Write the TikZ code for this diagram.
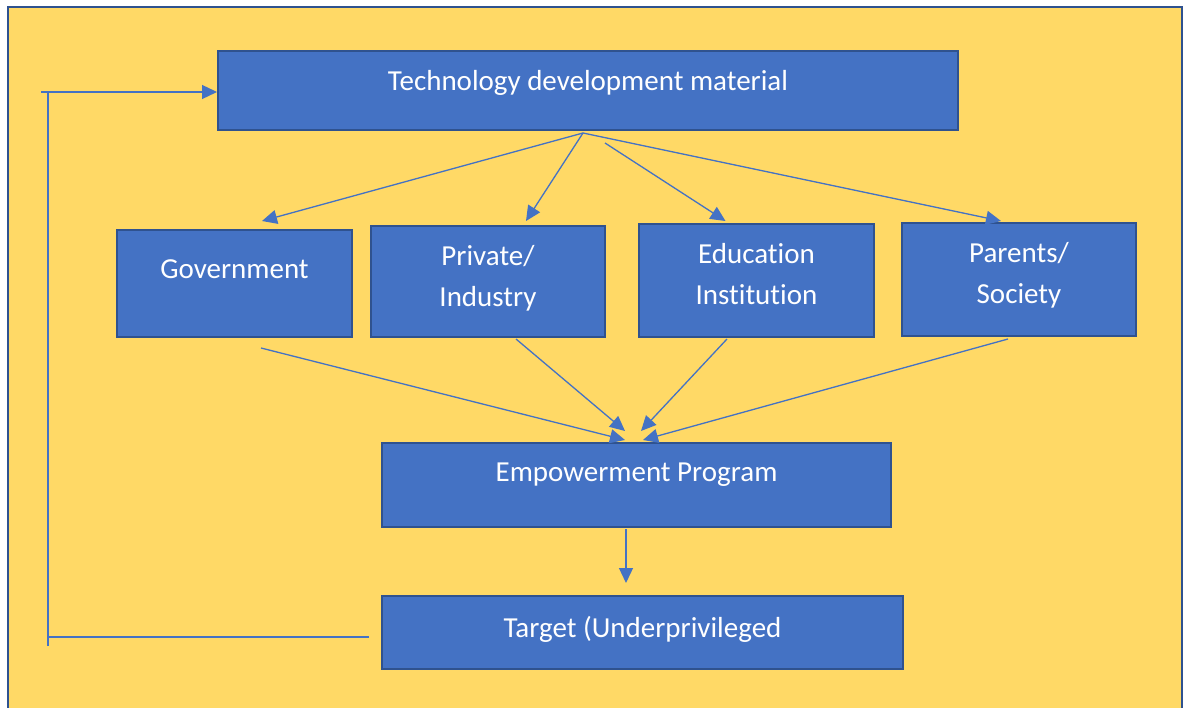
\documentclass[tikz,border=0pt]{standalone}
\usepackage{fontspec}
\setmainfont{Carlito}[Ligatures=NoCommon]
\usepackage{xcolor}
\usepackage{tikz}
\usetikzlibrary{arrows.meta, positioning, calc}

\definecolor{bgyellow}{HTML}{FFD966}
\definecolor{boxblue}{HTML}{4472C4}
\definecolor{boxline}{HTML}{2F528F}
\definecolor{lineblue}{HTML}{4472C4}

% text in a box, lifted by #1
\newcommand\boxtext[2]{\raisebox{#1}[0pt][0pt]{\begin{tabular}{@{}c@{}}#2\end{tabular}}}

\tikzset{
  box/.style={rectangle, fill=boxblue, draw=boxline, line width=2pt, inner sep=0pt,
    text=white, font=\fontsize{29}{41}\selectfont},
  link/.style={draw=lineblue, line width=1.3pt, -{Triangle[length=15pt,width=14pt]}},
  fback/.style={draw=lineblue, line width=1.3pt}
}

\begin{document}
\begin{tikzpicture}[x=1pt, y=-1pt]
\useasboundingbox (0,0) rectangle (1184,708);
\clip (0,0) rectangle (1184,708);
\fill[white] (0,0) rectangle (1184,708);
\fill[fill=bgyellow, draw=boxline, line width=2pt] (8,7) rectangle (1182,730);

\node (tech)[box, minimum width=740pt, minimum height=79pt] at (588,90.5) {\boxtext{2pt}{Technology development material}};

\node (govt)[box, minimum width=235pt, minimum height=107pt] at (234.5,283.5) {\boxtext{7pt}{Government}};
\node (priv)[box, minimum width=234pt, minimum height=111pt, right of=govt, node distance=253.5pt, yshift=2pt] {\boxtext{-3pt}{Private/\\Industry}};
\node (edu)[box, minimum width=235pt, minimum height=113pt, right of=priv, node distance=268.5pt, yshift=1pt] {\boxtext{-2pt}{Education\\Institution}};
\node (par)[box, minimum width=234pt, minimum height=113pt, right of=edu, node distance=262.5pt, yshift=1pt] {\boxtext{-2pt}{Parents/\\Society}};

\node (emp)[box, minimum width=509pt, minimum height=84pt] at (636.5,485) {\boxtext{5pt}{Empowerment Program}};
\node (target)[box, minimum width=521pt, minimum height=73pt] at (642.5,632.5) {\boxtext{-3pt}{Target (Underprivileged}};

\coordinate (fanA) at ($(tech.south)+(-5,2)$);
\coordinate (fanB) at ($(tech.south)+(17,12)$);
\coordinate (looptop) at (41,92);
\coordinate (loopbot) at (48,646);

\draw[link] (fanA) -- ($(govt.north)+(27.5,-8)$);
\draw[link] (fanA) -- ($(priv.north)+(38,-4)$);
\draw[link] (fanB) -- ($(edu.north)+(-31,-2)$);
\draw[link] (fanA) -- ($(par.north)+(-18,-1)$);

\draw[link] ($(govt.south)+(26.5,10)$) -- ($(emp.north)+(-11.5,-2)$);
\draw[link] ($(priv.south)+(28,1)$) -- ($(emp.north)+(-11.5,-11)$);
\draw[link] ($(edu.south)+(-29.5,1)$) -- ($(emp.north)+(4.5,-11)$);
\draw[link] ($(par.south)+(-11,2)$) -- ($(emp.north)+(6.5,-2)$);

\draw[link] ($(emp.south)+(-10.5,1)$) -- ($(target.north)+(-16.5,-12)$);

\draw[fback] ([shift={(-12,4.5)}]target.west) -| (loopbot);
\draw[fback] (loopbot) -- (loopbot |- looptop);
\draw[link] (looptop) -- (tech.west |- looptop);

\end{tikzpicture}
\end{document}
